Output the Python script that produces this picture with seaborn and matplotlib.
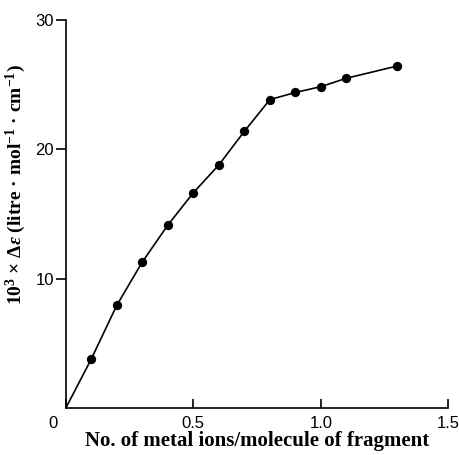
import numpy as np
import pandas as pd
import seaborn as sns
import matplotlib.pyplot as plt
import matplotlib.transforms as mtransforms

# values
x_ions = [0.0, 0.1, 0.2, 0.3, 0.4, 0.5, 0.6, 0.7, 0.8, 0.9, 1.0, 1.1, 1.3]
delta_eps = [0.0, 3.8, 7.95, 11.3, 14.15, 16.65, 18.8, 21.4, 23.85, 24.4, 24.85, 25.5, 26.45]
x_ticks = [0, 0.5, 1.0, 1.5]
x_ticklabels = ['0', '0.5', '1.0', '1.5']
y_ticks = [10, 20, 30]
y_ticklabels = ['10', '20', '30']

data = pd.DataFrame({'ions': x_ions, 'deps': delta_eps})

sns.set_style('ticks')
plt.rcParams['font.family'] = ['Liberation Sans', 'DejaVu Sans']
plt.rcParams['text.color'] = 'black'
plt.rcParams['xtick.color'] = 'black'
plt.rcParams['ytick.color'] = 'black'
plt.rcParams['axes.edgecolor'] = 'black'
plt.rcParams['axes.labelcolor'] = 'black'
plt.rcParams['mathtext.fontset'] = 'custom'
plt.rcParams['mathtext.rm'] = 'Liberation Serif:bold'
plt.rcParams['mathtext.it'] = 'Liberation Serif:bold:italic'
plt.rcParams['mathtext.bf'] = 'Liberation Serif:bold'

fig = plt.figure(figsize=(4.6, 4.55), dpi=100)
ax = fig.add_axes([0.143, 0.103, 0.832, 0.853])

sns.lineplot(data=data, x='ions', y='deps', color='black', linewidth=1.2, ax=ax)
# first point (origin) carries no marker
sns.scatterplot(data=data.iloc[1:], x='ions', y='deps', color='black', s=45,
                edgecolor='black', linewidth=0, zorder=3, ax=ax)

ax.set_xlim(0, 1.5)
ax.set_ylim(0, 30)
ax.set_xticks(x_ticks)
ax.set_xticklabels(x_ticklabels)
ax.set_yticks(y_ticks)
ax.set_yticklabels(y_ticklabels)

sns.despine(ax=ax)
for s in ['left', 'bottom']:
    ax.spines[s].set_linewidth(1.2)

ax.tick_params(axis='x', direction='in', length=6.5, width=1.2, pad=6, labelsize=12)
ax.tick_params(axis='y', direction='out', length=7.5, width=1.2, pad=1, labelsize=12)

# the "0" sits a bit to the left of the origin
lab0 = ax.get_xticklabels()[0]
lab0.set_transform(lab0.get_transform() + mtransforms.ScaledTranslation(-0.13, 0, fig.dpi_scale_trans))

ax.set_xlabel('No. of metal ions/molecule of fragment', family=['Liberation Serif', 'DejaVu Serif'],
              fontweight='bold', fontsize=15, labelpad=0)
ax.set_ylabel(r'10$^3$ × Δ$\varepsilon$ (litre · mol$^{-1}$ · cm$^{-1}$)',
              family=['Liberation Serif', 'DejaVu Serif'], fontweight='bold', fontsize=14)
ax.yaxis.set_label_coords(-0.098, 0.575)

fig.savefig('out.png', dpi=100)
